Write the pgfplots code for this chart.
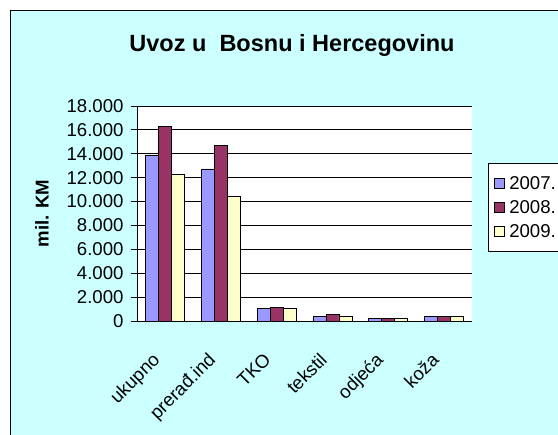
\documentclass[border=0pt]{standalone}
\usepackage{fontspec}
\setmainfont{Liberation Sans}
\usepackage{pgfplots}
\pgfplotsset{compat=1.18}
\definecolor{bgc}{HTML}{CCFFFF}
\definecolor{cA}{HTML}{9999FF}
\definecolor{cB}{HTML}{993366}
\definecolor{cC}{HTML}{FFFFCC}
\begin{document}
\begin{tikzpicture}[x=1pt,y=1pt]
\useasboundingbox (0,0) rectangle (558,435);
\fill[white] (0,0) rectangle (558,435);
\draw[black, line width=1pt, fill=bgc] (10.5,-10) rectangle (570,424.5);
\node[font=\bfseries\fontsize{23.5}{26}\selectfont] at (292,390) {Uvoz u\ \ Bosnu i Hercegovinu};
\begin{axis}[
  at={(137pt,114pt)}, anchor=south west,
  scale only axis, width=335pt, height=215pt,
  xmin=-0.5, xmax=5.5, ymin=0, ymax=18000,
  ybar=0pt, bar width=13pt,
  axis x line*=bottom, axis y line*=left,
  axis line style={black, line width=0.9pt, -},
  axis background/.style={fill=white},
  xtick={0,...,5},
  xticklabels={ukupno, prerađ.ind, TKO, tekstil, odjeća, koža},
  x tick label style={rotate=45, anchor=north east, inner sep=1pt, xshift=-26pt, yshift=-6.5pt},
  xtick style={draw=none},
  extra x ticks={-0.5,0.5,1.5,2.5,3.5,4.5,5.5},
  extra x tick labels={},
  extra x tick style={tick style={draw=black, line width=0.9pt}, major tick length=6pt, tick align=outside},
  ytick={0,2000,...,18000},
  ymajorgrids, grid style={black, line width=0.8pt},
  ytick style={black, line width=0.9pt}, major tick length=6pt, tick align=outside,
  scaled y ticks=false,
  /pgf/number format/1000 sep={.},
  /pgf/number format/assume math mode=true,
  yticklabel style={xshift=-4pt},
  tick label style={font=\fontsize{18.6}{20}\selectfont},
  ylabel={mil. KM},
  ylabel style={font=\bfseries\fontsize{18.6}{20}\selectfont, at={(axis description cs:-0.284,0.5)}, anchor=center, rotate=0},
  legend style={at={(axis description cs:1.048,0.735)}, anchor=north west, draw=black, line width=0.8pt, fill=white,
    font=\fontsize{18.6}{20}\selectfont, inner xsep=6pt, inner ysep=11pt, row sep=5.5pt, column sep=2pt, cells={anchor=west}},
  legend image code/.code={\draw[#1, line width=0.8pt] (0pt,-5pt) rectangle (10pt,5pt);},
  every axis plot/.append style={draw=black, line width=0.8pt},
]
\addplot[fill=cA] coordinates {(0,13900) (1,12730) (2,1030) (3,380) (4,230) (5,370)};
\addplot[fill=cB] coordinates {(0,16270) (1,14680) (2,1150) (3,560) (4,230) (5,370)};
\addplot[fill=cC] coordinates {(0,12310) (1,10470) (2,1030) (3,380) (4,230) (5,370)};
\addlegendimage{empty legend}
\legend{2007.,2008.,2009.,{}}
\draw[gray, line width=0.8pt] (rel axis cs:1,0) -- (rel axis cs:1,1);
\end{axis}
\end{tikzpicture}
\end{document}
